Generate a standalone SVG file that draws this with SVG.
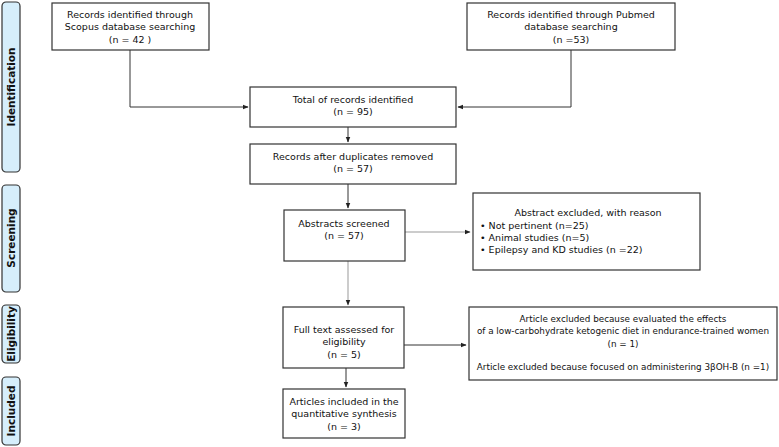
<svg xmlns="http://www.w3.org/2000/svg" width="779" height="447" viewBox="0 0 779 447">
<style>
.b{fill:#fff;stroke:#333;stroke-width:1.2}
.s{fill:#d6eefb;stroke:#333;stroke-width:1.2}
text{font-family:"DejaVu Sans",sans-serif;font-size:9.5px;fill:#111}
.c{text-anchor:middle}
.sm{font-size:8.8px}
.l{font-weight:bold;font-size:10.5px;text-anchor:middle}
.k{fill:none;stroke:#333;stroke-width:1}
.g{fill:none;stroke:#999;stroke-width:1}
</style>
<defs><marker id="a" viewBox="0 0 10 10" refX="9" refY="5" markerWidth="6" markerHeight="6" orient="auto"><path d="M0,1L10,5L0,9z" fill="#222"/></marker></defs>
<g id="side">
<rect class="s" x="2" y="2" width="18" height="170" rx="4"/><text class="l" transform="translate(15,87) rotate(-90)">Identification</text>
<rect class="s" x="2" y="185" width="18" height="107" rx="4"/><text class="l" transform="translate(15,238) rotate(-90)">Screening</text>
<rect class="s" x="2" y="305" width="18" height="58" rx="4"/><text class="l" transform="translate(15,334) rotate(-90)">Eligibility</text>
<rect class="s" x="2" y="377" width="18" height="68" rx="4"/><text class="l" transform="translate(15,411) rotate(-90)">Included</text>
</g>
<g id="connectors">
<path class="k" d="M130,50V107H248" marker-end="url(#a)"/>
<path class="k" d="M571,50V107H458" marker-end="url(#a)"/>
<path class="k" d="M348,127V142" marker-end="url(#a)"/>
<path class="k" d="M348,184V208" marker-end="url(#a)"/>
<path class="g" d="M348,261V305" marker-end="url(#a)"/>
<path class="g" d="M405,232H470" marker-end="url(#a)"/>
<path class="k" d="M404,345H466" marker-end="url(#a)"/>
<path class="k" d="M346,368V387" marker-end="url(#a)"/>
</g>
<g id="scopus"><rect class="b" x="52" y="3" width="157" height="47"/><text class="c" x="130" y="18">Records identified through</text><text class="c" x="130" y="30">Scopus database searching</text><text class="c" x="130" y="43">(n = 42 )</text></g>
<g id="pubmed"><rect class="b" x="467" y="3" width="208" height="47"/><text class="c" x="571" y="18">Records identified through Pubmed</text><text class="c" x="571" y="30">database searching</text><text class="c" x="571" y="43">(n =53)</text></g>
<g id="total"><rect class="b" x="250" y="87" width="206" height="40"/><text class="c" x="353" y="103">Total of records identified</text><text class="c" x="353" y="115">(n = 95)</text></g>
<g id="dup"><rect class="b" x="250" y="144" width="206" height="40"/><text class="c" x="353" y="160">Records after duplicates removed</text><text class="c" x="353" y="172">(n = 57)</text></g>
<g id="abs"><rect class="b" x="284" y="210" width="121" height="51"/><text class="c" x="344" y="227">Abstracts screened</text><text class="c" x="344" y="239">(n = 57)</text></g>
<g id="absex"><rect class="b" x="473" y="193" width="227" height="77"/><text class="c" x="588" y="216">Abstract excluded, with reason</text><text x="480" y="229">•  Not pertinent (n=25)</text><text x="480" y="241">•  Animal studies (n=5)</text><text x="480" y="253">•  Epilepsy and KD studies (n =22)</text></g>
<g id="full"><rect class="b" x="283" y="307" width="121" height="61"/><text class="c" x="344" y="333">Full text assessed for</text><text class="c" x="344" y="345">eligibility</text><text class="c" x="344" y="358">(n = 5)</text></g>
<g id="artex"><rect class="b" x="469" y="307" width="308" height="73"/><text class="c sm" x="623" y="322">Article excluded because evaluated the effects</text><text class="c sm" x="623" y="334">of a low-carbohydrate ketogenic diet in endurance-trained women</text><text class="c sm" x="623" y="347">(n = 1)</text><text class="c sm" x="623" y="370">Article excluded because focused on administering 3βOH-B (n =1)</text></g>
<g id="incl"><rect class="b" x="283" y="389" width="122" height="49"/><text class="c" x="344" y="405">Articles included in the</text><text class="c" x="344" y="417">quantitative synthesis</text><text class="c" x="344" y="430">(n = 3)</text></g>
</svg>
